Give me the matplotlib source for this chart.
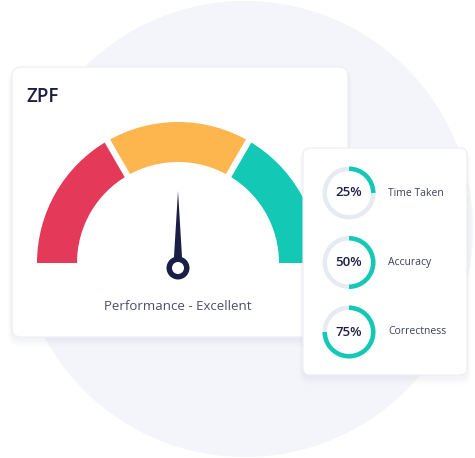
import matplotlib
matplotlib.use("Agg")
import matplotlib.pyplot as plt
from matplotlib.patches import Circle, Wedge, FancyBboxPatch, Polygon
import numpy as np

# gauge data
zone_edges = [0, 33.3, 66.7, 100]  # percent of the gauge, left to right
zone_colors = ["#e5395a", "#fdb54e", "#13c8b5"]
needle_value = 50
gauge_title = "ZPF"
gauge_caption = "Performance - Excellent"

# side card metrics
metric_labels = ["Time Taken", "Accuracy", "Correctness"]
metric_values = [25, 50, 75]

W, H = 475, 458
NAVY = "#1c1f45"
TEAL = "#13c8b5"
plt.rcParams["font.family"] = ["Open Sans", "DejaVu Sans"]

fig = plt.figure(figsize=(W / 100, H / 100), dpi=100)
ax = fig.add_axes([0, 0, 1, 1])
ax.set_xlim(0, W)
ax.set_ylim(0, H)
ax.set_aspect("equal")
ax.axis("off")


def card(x0, y0, x1, y1, r):
    # soft shadow then the white card
    for i, a in enumerate([0.03, 0.025, 0.02, 0.015]):
        s = 2 + i * 2
        ax.add_patch(FancyBboxPatch((x0 - s / 2, y0 - s - 2), x1 - x0 + s, y1 - y0 + s,
                                    boxstyle=f"round,pad=0,rounding_size={r + s / 2}",
                                    fc="#8a93b0", ec="none", alpha=a))
    ax.add_patch(FancyBboxPatch((x0, y0), x1 - x0, y1 - y0,
                                boxstyle=f"round,pad=0,rounding_size={r}",
                                fc="white", ec="#eceef4", lw=0.8))


# background disc
ax.add_patch(Circle((245, H - 229), 228, fc="#f4f5fa", ec="none"))

# main gauge card
card(12, H - 337, 348, H - 67, 9)
ax.text(26, H - 97, gauge_title, fontsize=13.5, fontweight="semibold", color=NAVY,
        ha="left", va="center")

cx, cy = 178, H - 263
r_out, r_in = 141, 101
for lo, hi, col in zip(zone_edges[:-1], zone_edges[1:], zone_colors):
    t1 = 180 - 1.8 * lo
    t2 = 180 - 1.8 * hi
    ax.add_patch(Wedge((cx, cy), r_out, t2, t1, width=r_out - r_in, fc=col, ec="none"))
# white gaps between zones
for edge in zone_edges[1:-1]:
    a = np.radians(180 - 1.8 * edge)
    ax.plot([cx + (r_in - 2) * np.cos(a), cx + (r_out + 2) * np.cos(a)],
            [cy + (r_in - 2) * np.sin(a), cy + (r_out + 2) * np.sin(a)],
            color="white", lw=4.5, solid_capstyle="butt")

# needle
ang = np.radians(180 - 1.8 * needle_value)
ncx, ncy = cx, cy - 5
tip = (ncx + 77 * np.cos(ang), ncy + 77 * np.sin(ang))
perp = np.array([-np.sin(ang), np.cos(ang)])
base = np.array([ncx, ncy]) + 8 * np.array([np.cos(ang), np.sin(ang)])
ax.add_patch(Polygon([tip, base + 4.2 * perp, base - 4.2 * perp], closed=True,
                     fc=NAVY, ec="none"))
ax.add_patch(Circle((ncx, ncy), 11.5, fc=NAVY, ec="none"))
ax.add_patch(Circle((ncx, ncy), 6, fc="white", ec="none"))

ax.text(cx, H - 307, gauge_caption, fontsize=9.5, color="#4a4e6a",
        ha="center", va="center")

# metrics card
card(303, H - 375, 467, H - 148, 7)
dx = 349
for i, (lab, val) in enumerate(zip(metric_labels, metric_values)):
    dy = H - (193 + 69.5 * i)
    ax.add_patch(Wedge((dx, dy), 26.5, 0, 360, width=4.5, fc="#e6ebf2", ec="none"))
    ax.add_patch(Wedge((dx, dy), 26.5, 90 - 3.6 * val, 90, width=4.5, fc=TEAL, ec="none"))
    ax.text(dx, dy, f"{val}%", fontsize=9.5, fontweight="semibold", color=NAVY,
            ha="center", va="center")
    ax.text(388, dy, lab, fontsize=7.5, color="#3d4060", ha="left", va="center")

fig.savefig("out.png", dpi=100)
